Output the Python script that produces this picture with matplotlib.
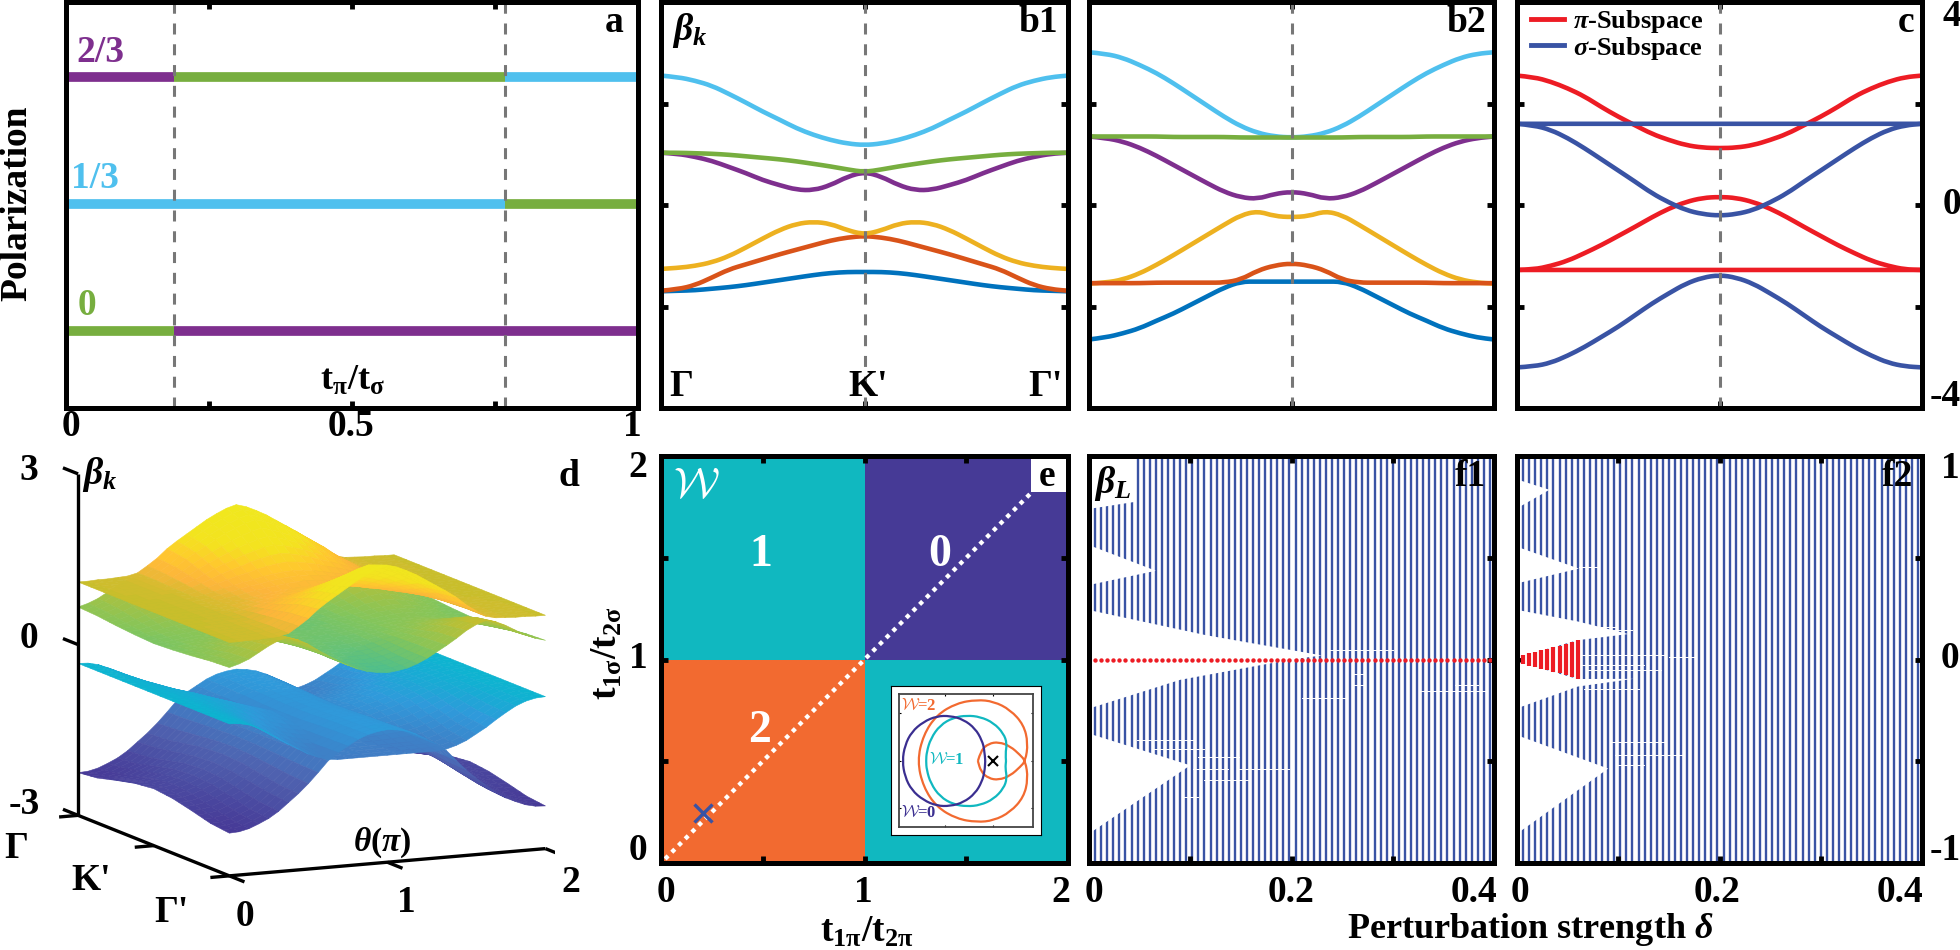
import numpy as np
import matplotlib
matplotlib.use('Agg')
import matplotlib.pyplot as plt
from matplotlib.colors import LinearSegmentedColormap, ListedColormap
from matplotlib.patches import PathPatch
from matplotlib.path import Path
from mpl_toolkits.mplot3d.art3d import Poly3DCollection

plt.rcParams['font.family'] = ['Liberation Serif', 'DejaVu Serif']
plt.rcParams['font.weight'] = 'bold'
plt.rcParams['mathtext.fontset'] = 'custom'
plt.rcParams['mathtext.rm'] = 'Liberation Serif:bold'
plt.rcParams['mathtext.it'] = 'Liberation Serif:italic:bold'
plt.rcParams['mathtext.bf'] = 'Liberation Serif:bold'
plt.rcParams['mathtext.bfit'] = 'Liberation Serif:italic:bold'

W, H = 1960, 950

# colours
CYAN, GREEN, PURPLE = '#4FC0EE', '#77AE3F', '#7E2F8E'
YELLOW, ORANGE, BLUE = '#EDB120', '#D95319', '#0072BD'
RED, SBLUE, GRAY = '#ED1C24', '#3953A4', '#777777'

# panel a: polarization segments
pol_levels = [2/3, 2/3, 2/3, 1/3, 1/3, 0, 0]
pol_start = [0, 0.189, 0.767, 0, 0.767, 0, 0.189]
pol_end = [0.189, 0.767, 1, 0.767, 1, 0.189, 1]
pol_colors = [PURPLE, GREEN, CYAN, CYAN, GREEN, GREEN, PURPLE]
transitions = [0.189, 0.767]

# bands, Gamma to K' (second half is the mirror image)
b1_cyan = [2.55, 2.52, 2.45, 2.35, 2.19, 2.02, 1.84, 1.68, 1.51, 1.38, 1.28, 1.21, 1.18]
b1_green = [1.03, 1.03, 1.02, 1.01, 0.99, 0.96, 0.93, 0.90, 0.86, 0.81, 0.76, 0.70, 0.65]
b1_purple = [1.03, 1.01, 0.95, 0.87, 0.75, 0.63, 0.49, 0.39, 0.30, 0.29, 0.39, 0.56, 0.65]
b1_yellow = [-1.26, -1.24, -1.20, -1.13, -1.01, -0.84, -0.66, -0.49, -0.37, -0.33, -0.37, -0.50, -0.58]
b1_orange = [-1.69, -1.66, -1.58, -1.43, -1.27, -1.17, -1.07, -0.97, -0.88, -0.79, -0.70, -0.64, -0.61]
b1_blue = [-1.70, -1.69, -1.68, -1.65, -1.62, -1.58, -1.53, -1.48, -1.43, -1.38, -1.34, -1.32, -1.32]

b2_cyan = [3.01, 2.98, 2.90, 2.76, 2.60, 2.40, 2.18, 1.96, 1.74, 1.55, 1.42, 1.35, 1.33]
b2_green = [1.35, 1.35, 1.35, 1.35, 1.35, 1.34, 1.34, 1.34, 1.34, 1.33, 1.33, 1.33, 1.33]
b2_purple = [1.35, 1.32, 1.25, 1.13, 0.97, 0.79, 0.61, 0.43, 0.26, 0.15, 0.12, 0.22, 0.26]
b2_yellow = [-1.55, -1.53, -1.47, -1.35, -1.18, -0.99, -0.79, -0.59, -0.39, -0.20, -0.12, -0.22, -0.24]
b2_orange = [-1.54, -1.54, -1.54, -1.54, -1.53, -1.53, -1.53, -1.53, -1.53, -1.47, -1.29, -1.19, -1.15]
b2_blue = [-2.65, -2.61, -2.53, -2.43, -2.28, -2.14, -1.97, -1.80, -1.63, -1.51, -1.51, -1.51, -1.51]

c_red_top = [2.55, 2.52, 2.43, 2.30, 2.14, 1.93, 1.74, 1.57, 1.40, 1.28, 1.18, 1.13, 1.12]
c_red_mid = [-1.28, -1.27, -1.20, -1.10, -0.95, -0.79, -0.61, -0.43, -0.24, -0.07, 0.06, 0.14, 0.16]
c_red_flat = [-1.28] * 13
c_blue_flat = [1.60] * 13
c_blue_mid = [1.60, 1.57, 1.48, 1.32, 1.12, 0.90, 0.68, 0.46, 0.23, 0.05, -0.10, -0.18, -0.21]
c_blue_low = [-3.20, -3.18, -3.11, -2.97, -2.80, -2.60, -2.40, -2.17, -1.94, -1.74, -1.55, -1.43, -1.38]

# panel d: one quarter of each surface, rows k = Gamma..K', columns theta = 0..pi
surf_1 = [[1.10, 1.10, 1.11, 1.11, 1.12, 1.13, 1.17, 1.28, 1.40, 1.55, 1.67, 1.78, 1.89, 2.00, 2.09, 2.17, 2.22],
          [1.10, 1.10, 1.11, 1.11, 1.12, 1.13, 1.17, 1.26, 1.37, 1.50, 1.60, 1.70, 1.80, 1.89, 1.97, 2.04, 2.09],
          [1.10, 1.10, 1.11, 1.11, 1.12, 1.13, 1.15, 1.22, 1.29, 1.37, 1.45, 1.52, 1.58, 1.65, 1.70, 1.75, 1.78],
          [1.10, 1.10, 1.10, 1.10, 1.11, 1.12, 1.14, 1.17, 1.21, 1.25, 1.29, 1.33, 1.36, 1.40, 1.43, 1.45, 1.46],
          [1.10, 1.10, 1.10, 1.10, 1.11, 1.12, 1.13, 1.15, 1.17, 1.19, 1.22, 1.25, 1.27, 1.29, 1.31, 1.32, 1.33]]
surf_2 = [[0.66, 0.71, 0.78, 0.88, 0.98, 1.06, 1.10, 1.04, 0.95, 0.83, 0.72, 0.62, 0.52, 0.44, 0.38, 0.35, 0.33],
          [0.64, 0.69, 0.75, 0.84, 0.93, 1.00, 1.03, 0.98, 0.90, 0.80, 0.70, 0.61, 0.52, 0.45, 0.40, 0.37, 0.36],
          [0.60, 0.63, 0.68, 0.74, 0.80, 0.84, 0.87, 0.83, 0.78, 0.71, 0.65, 0.59, 0.54, 0.49, 0.45, 0.43, 0.42],
          [0.57, 0.58, 0.61, 0.64, 0.67, 0.69, 0.71, 0.69, 0.67, 0.63, 0.60, 0.57, 0.55, 0.52, 0.50, 0.48, 0.47],
          [0.55, 0.56, 0.58, 0.60, 0.62, 0.63, 0.64, 0.63, 0.62, 0.60, 0.58, 0.56, 0.55, 0.53, 0.52, 0.51, 0.50]]
surf_3 = [[-0.33, -0.34, -0.38, -0.45, -0.55, -0.66, -0.78, -0.88, -0.98, -1.05, -1.10, -1.12, -1.12, -1.12, -1.12, -1.12, -1.12],
          [-0.33, -0.34, -0.38, -0.44, -0.53, -0.63, -0.74, -0.83, -0.92, -0.99, -1.04, -1.07, -1.08, -1.08, -1.09, -1.09, -1.09],
          [-0.33, -0.34, -0.37, -0.42, -0.48, -0.56, -0.64, -0.72, -0.79, -0.86, -0.91, -0.95, -0.97, -0.99, -1.01, -1.02, -1.02],
          [-0.33, -0.34, -0.36, -0.40, -0.44, -0.49, -0.54, -0.60, -0.66, -0.72, -0.78, -0.82, -0.87, -0.90, -0.93, -0.94, -0.95],
          [-0.33, -0.34, -0.36, -0.39, -0.42, -0.46, -0.50, -0.55, -0.60, -0.66, -0.72, -0.77, -0.82, -0.86, -0.90, -0.91, -0.92]]
surf_4 = [[-2.25, -2.24, -2.20, -2.13, -2.05, -1.94, -1.80, -1.66, -1.50, -1.32, -1.13, -1.00, -0.90, -0.80, -0.73, -0.69, -0.67],
          [-2.21, -2.20, -2.16, -2.09, -2.02, -1.91, -1.77, -1.64, -1.48, -1.31, -1.13, -1.01, -0.91, -0.81, -0.74, -0.70, -0.68],
          [-2.12, -2.11, -2.08, -2.01, -1.93, -1.84, -1.71, -1.58, -1.44, -1.29, -1.14, -1.03, -0.92, -0.83, -0.75, -0.71, -0.69],
          [-2.04, -2.03, -1.99, -1.93, -1.85, -1.76, -1.65, -1.52, -1.40, -1.27, -1.15, -1.04, -0.94, -0.85, -0.77, -0.73, -0.71],
          [-2.00, -1.99, -1.95, -1.89, -1.82, -1.73, -1.62, -1.50, -1.38, -1.26, -1.15, -1.05, -0.95, -0.86, -0.78, -0.74, -0.72]]
surf_levels = [-2.25, -1.5, -0.7, -0.33, 0.3, 0.6, 1.1, 1.27, 1.5, 1.75, 2.2]
surf_colors = ['#473A97', '#4F63B0', '#2F9ADB', '#0DB4D0', '#49BF91', '#85C55A',
               '#C9BE2B', '#FCB53B', '#FFC82E', '#F3E31F', '#F0E81E']

# panel e: winding number map and inset loops
winding = [[2, 1], [1, 0]]
region_colors = ['#463A96', '#10B8C0', '#F26A30']
loop0_x = [-0.155, -0.169, -0.225, -0.366, -0.613, -0.894, -1.176, -1.458, -1.704, -1.845, -1.90]
loop0_y = [0, 0.225, 0.437, 0.683, 0.873, 0.951, 0.944, 0.824, 0.613, 0.331, 0]
loop1_x = [0.282, 0.268, 0.303, 0.232, 0.021, -0.261, -0.542, -0.824, -1.106, -1.303, -1.387, -1.401]
loop1_y = [0, 0.155, 0.366, 0.577, 0.803, 0.930, 0.958, 0.915, 0.754, 0.472, 0.19, 0]
loop2_x = [-0.31, -0.246, -0.085, 0.127, 0.373, 0.585, 0.69, 0.746, 0.655, 0.373, 0.021,
           -0.331, -0.754, -1.176, -1.458, -1.585]
loop2_y = [0, 0.225, 0.366, 0.401, 0.31, 0.12, 0, -0.373, -0.761, -1.077, -1.254,
           -1.289, -1.218, -0.972, -0.549, 0]

# panel f: gaps of the spectrum (delta, beta) and small openings
f1_gaps = [([0, 0.046, 0.046, 0], [1, 1, 0.775, 0.74]),
           ([0, 0.066, 0], [0.562, 0.436, 0.366]),
           ([0, 0.115, 0.23, 0.2, 0.09, 0], [0.243, 0.12, 0.02, 0.0, -0.10, -0.241]),
           ([0, 0.10, 0], [-0.364, -0.52, -0.856])]
f1_nicks = [(0.26, 0.271, -0.126), (0.361, 0.384, -0.126), (0.21, 0.254, -0.19),
            (0.26, 0.271, -0.069), (0.238, 0.30, 0.046), (0.108, 0.148, -0.479),
            (0.103, 0.137, -0.536), (0.114, 0.159, -0.593), (0.092, 0.108, -0.675),
            (0.047, 0.103, -0.397), (0.063, 0.114, -0.438), (0.148, 0.198, -0.536),
            (0.328, 0.392, -0.154)]
f2_gaps = [([0, 0.032, 0], [0.885, 0.834, 0.743]),
           ([0, 0.061, 0], [0.554, 0.447, 0.374]),
           ([0, 0.06, 0.11, 0.06, 0], [0.244, 0.187, 0.125, 0.095, 0.01]),
           ([0, 0.06, 0.115, 0.06, 0], [-0.01, -0.096, -0.095, -0.133, -0.24]),
           ([0, 0.09, 0], [-0.372, -0.536, -0.856])]
f2_nicks = [(0.064, 0.147, 0.021), (0.064, 0.125, -0.028), (0.069, 0.142, -0.052),
            (0.066, 0.12, -0.143), (0.092, 0.147, -0.405), (0.097, 0.164, -0.47),
            (0.058, 0.097, 0.161), (0.092, 0.114, 0.144), (0.061, 0.08, 0.456),
            (0.10, 0.125, -0.52), (0.15, 0.175, 0.01)]
f2_red_half = [0.02, 0.03, 0.036, 0.046, 0.052, 0.059, 0.066, 0.074, 0.085, 0.096]


def full(half):
    half = np.asarray(half, dtype=float)
    return np.concatenate([half, half[-2::-1]])


def ax_px(l, t, r, b):
    return fig.add_axes([l / W, 1 - b / H, (r - l) / W, (b - t) / H])


def px_text(x, y, s, size=27, color='k', **kw):
    kw.setdefault('ha', 'center')
    kw.setdefault('va', 'center')
    return fig.text(x / W, 1 - y / H, s, fontsize=size, color=color, fontweight='bold', **kw)


def frame(ax, xticks, yticks):
    ax.set_xticks(xticks)
    ax.set_yticks(yticks)
    ax.tick_params(direction='in', top=True, right=True, length=5, width=3.5,
                   labelbottom=False, labelleft=False)
    for sp in ax.spines.values():
        sp.set_linewidth(3.6)
        sp.set_zorder(10)


def smooth_line(ax, x, y, **kw):
    # quadratic spline with the read points as control points
    pts = np.column_stack([x, y])
    verts = [pts[0]]
    codes = [Path.MOVETO]
    for i in range(1, len(pts) - 1):
        verts += [pts[i], (pts[i] + pts[i + 1]) / 2]
        codes += [Path.CURVE3, Path.CURVE3]
    verts.append(pts[-1])
    codes.append(Path.LINETO)
    ax.add_patch(PathPatch(Path(verts, codes), fill=False, capstyle='butt', **kw))


fig = plt.figure(figsize=(W / 100, H / 100), dpi=100)

# a
ax = ax_px(66, 2, 638, 408)
for y, x0, x1, col in zip(pol_levels, pol_start, pol_end, pol_colors):
    ax.plot([x0, x1], [y, y], color=col, lw=7, solid_capstyle='butt')
for x in transitions:
    ax.axvline(x, color=GRAY, lw=2.2, ls=(0, (3.6, 3.2)), zorder=5)
ax.set_xlim(0, 1)
ax.set_ylim(1/3 - 0.5347, 1/3 + 0.5302)
frame(ax, [0.25, 0.5, 0.75], [0, 1/3, 2/3])
px_text(100, 52, '2/3', color=PURPLE)
px_text(95, 178, '1/3', color=CYAN)
px_text(87, 306, '0', color=GREEN)
px_text(614, 23, 'a')
px_text(17, 203, 'Polarization', size=27, rotation=90)
px_text(352, 381, r'$\mathbf{t}_{\mathbf{\pi}}\mathbf{/t}_{\mathbf{\sigma}}$', size=26)
px_text(71, 426, '0')
px_text(351, 426, '0.5')
px_text(632, 426, '1')

# b1, b2, c
k = np.linspace(0, 1, 25)
panels = [(661, 1068, [(b1_blue, BLUE), (b1_orange, ORANGE), (b1_yellow, YELLOW),
                       (b1_purple, PURPLE), (b1_green, GREEN), (b1_cyan, CYAN)]),
          (1089, 1494, [(b2_blue, BLUE), (b2_yellow, YELLOW), (b2_orange, ORANGE),
                        (b2_purple, PURPLE), (b2_cyan, CYAN), (b2_green, GREEN)]),
          (1517, 1922, [(c_red_top, RED), (c_red_mid, RED), (c_red_flat, RED),
                        (c_blue_flat, SBLUE), (c_blue_mid, SBLUE), (c_blue_low, SBLUE)])]
for l, r, curves in panels:
    ax = ax_px(l, 2, r, 408)
    for vals, col in curves:
        smooth_line(ax, k, full(vals), edgecolor=col, lw=3.3)
    ax.axvline(0.5, color=GRAY, lw=2.2, ls=(0, (3.6, 3.2)), zorder=5)
    ax.set_xlim(0, 1)
    ax.set_ylim(-4, 4)
    frame(ax, [0.5], [-2, 0, 2])
    ax_c = ax
ax_c.plot([], [], color=RED, lw=3.5, label=r'$\mathbfit{\pi}$-Subspace')
ax_c.plot([], [], color=SBLUE, lw=3.5, label=r'$\mathbfit{\sigma}$-Subspace')
ax_c.legend(loc='upper left', frameon=False, prop={'weight': 'bold', 'size': 19},
            handlelength=1.25, handletextpad=0.34, labelspacing=-0.02,
            borderaxespad=0, borderpad=0, bbox_to_anchor=(0.035, 0.985))
beta_k = r'$\mathbfit{\beta}_{\mathbfit{k}}$'
px_text(690, 30, beta_k, size=27)
px_text(1038, 22, 'b1')
px_text(1466, 22, 'b2')
px_text(1906, 22, 'c')
px_text(681, 387, '\u0393')
px_text(868, 387, "K'")
px_text(1045, 387, "\u0393'")
px_text(1952, 17, '4')
px_text(1952, 205, '0')
px_text(1945, 397, '-4')

# d
ax3 = fig.add_axes([55 / W, 1 - 918 / H, 500 / W, 500 / H], projection='3d', proj_type='ortho')
ax3.view_init(elev=10.7, azim=-24.9)
ax3.set_box_aspect((368, 357, 356), zoom=1.183)
ax3.set_xlim(0, 1)
ax3.set_ylim(0, 1)
ax3.set_zlim(-3, 3)
ax3.set_axis_off()
ax3.computed_zorder = False
cmap = LinearSegmentedColormap.from_list(
    'bands', [((v - surf_levels[0]) / (surf_levels[-1] - surf_levels[0]), c)
              for v, c in zip(surf_levels, surf_colors)])
u_grid = np.linspace(0, 1, 9)
v_grid = np.linspace(0, 1, 33)
polys, poly_cols = [], []
n_sub = 3  # finer facets along k only for the shading
for surf in (surf_4, surf_3, surf_2, surf_1):
    q = np.array(surf)
    z = np.vstack([q, q[-2::-1]])
    z = np.hstack([z, z[:, -2::-1]])
    for i in range(len(u_grid) - 1):
        for j in range(len(v_grid) - 1):
            for s in range(n_sub):
                t0, t1 = s / n_sub, (s + 1) / n_sub
                u0 = u_grid[i] + t0 * (u_grid[i + 1] - u_grid[i])
                u1 = u_grid[i] + t1 * (u_grid[i + 1] - u_grid[i])
                z00 = z[i, j] + t0 * (z[i + 1, j] - z[i, j])
                z10 = z[i, j] + t1 * (z[i + 1, j] - z[i, j])
                z01 = z[i, j + 1] + t0 * (z[i + 1, j + 1] - z[i, j + 1])
                z11 = z[i, j + 1] + t1 * (z[i + 1, j + 1] - z[i, j + 1])
                polys.append([(u0, v_grid[j], z00), (u1, v_grid[j], z10),
                              (u1, v_grid[j + 1], z11), (u0, v_grid[j + 1], z01)])
                poly_cols.append(cmap((np.mean([z00, z10, z01, z11]) - surf_levels[0])
                                      / (surf_levels[-1] - surf_levels[0])))
ax3.add_collection3d(Poly3DCollection(polys, facecolors=poly_cols, edgecolors=poly_cols,
                                      linewidths=0.4, zorder=2, zsort='average'))
for xs, ys, zs in [([0, 0], [0, 0], [-3, 3]), ([0, 1], [0, 0], [-3, -3]), ([1, 1], [0, 1], [-3, -3]),
                   ([0, -0.1], [0, 0], [3, 3]), ([0, -0.1], [0, 0], [0, 0]), ([0, -0.1], [0, 0], [-3, -3]),
                   ([0, 0], [0, -0.06], [-3, -3]), ([0.5, 0.5], [0, -0.06], [-3, -3]), ([1, 1], [0, -0.06], [-3, -3]),
                   ([1, 1.1], [0, 0], [-3, -3]), ([1, 1.1], [0.5, 0.5], [-3, -3]), ([1, 1.1], [1, 1], [-3, -3])]:
    ax3.plot(xs, ys, zs, color='k', lw=2.4, zorder=3, solid_capstyle='butt')
px_text(29, 470, '3')
px_text(29, 638, '0')
px_text(24, 805, '-3')
px_text(16, 848, '\u0393')
px_text(91, 880, "K'")
px_text(171, 912, "\u0393'")
px_text(245, 917, '0')
px_text(406, 902, '1')
px_text(571, 882, '2')
px_text(382, 843, r'$\mathbfit{\theta}\mathbf{(}\mathbfit{\pi}\mathbf{)}$', size=24)
px_text(100, 475, beta_k, size=27)
px_text(569, 477, 'd')

# e
ax = ax_px(661, 456, 1068, 863)
ax.pcolormesh([0, 1, 2], [0, 1, 2], np.array(winding), cmap=ListedColormap(region_colors), vmin=0, vmax=2)
ax.fill([1.82, 2, 2, 1.82], [1.824, 1.824, 2, 2], color='white', lw=0)
ax.plot([0.02, 1.82], [0.02, 1.82], color='white', lw=3.1, ls=(0, (1, 1.2)))
ax.plot([0.207], [0.244], marker='x', ms=13, mew=2.4, color=SBLUE)
ax.text(0.49, 1.515, '1', color='white', fontsize=33, ha='center', va='center')
ax.text(1.37, 1.515, '0', color='white', fontsize=33, ha='center', va='center')
ax.text(0.484, 0.651, '2', color='white', fontsize=33, ha='center', va='center')
ax.text(0.174, 1.85, r'$\mathcal{W}$', color='white', fontsize=31, ha='center', va='center',
        math_fontfamily='cm')
ax.set_xlim(0, 2)
ax.set_ylim(0, 2)
frame(ax, [0.5, 1, 1.5], [0.5, 1, 1.5])
px_text(1047, 476, 'e')
px_text(638, 467, '2')
px_text(638, 659, '1')
px_text(638, 851, '0')
px_text(666, 892, '0')
px_text(863, 892, '1')
px_text(1061, 892, '2')
px_text(867, 932, r'$\mathbf{t}_{\mathbf{1\pi}}\mathbf{/t}_{\mathbf{2\pi}}$', size=27)
px_text(607, 653, r'$\mathbf{t}_{\mathbf{1\sigma}}\mathbf{/t}_{\mathbf{2\sigma}}$', size=27, rotation=90)

# inset of e
bg = ax_px(891, 686, 1041, 835)
bg.set_xticks([])
bg.set_yticks([])
for sp in bg.spines.values():
    sp.set_linewidth(0.8)
    sp.set_zorder(10)
ins = ax_px(899, 694, 1033, 827)
for xs, ys, col in [(loop2_x, loop2_y, '#F26A30'), (loop1_x, loop1_y, '#10B8C0'), (loop0_x, loop0_y, '#3A2E90')]:
    xs = np.array(xs)
    ys = np.array(ys)
    smooth_line(ins, np.r_[xs, xs[::-1][1:]], np.r_[ys, -ys[::-1][1:]], edgecolor=col, lw=1.6)
ins.plot([0], [0], marker='x', ms=7, mew=1.5, color='k')
ins.set_xlim(-1.97, 0.85)
ins.set_ylim(-1.39, 1.41)
ins.set_xticks([-1, 0])
ins.set_yticks([-1, 0, 1])
ins.tick_params(direction='in', top=True, right=True, length=1.5, width=0.8, labelbottom=False, labelleft=False)
for sp in ins.spines.values():
    sp.set_linewidth(1.3)
    sp.set_color('#444444')
for x, y, s, col in [(919, 706, '=2', '#F26A30'), (947, 760, '=1', '#10B8C0'), (919, 813, '=0', '#3A2E90')]:
    px_text(x, y, r'$\mathcal{W}$' + s, size=12, color=col, math_fontfamily='cm')

# f1, f2
delta = 0.006 * np.arange(1, 67)
for l, r, gaps, nicks in [(1089, 1494, f1_gaps, f1_nicks), (1517, 1922, f2_gaps, f2_nicks)]:
    ax = ax_px(l, 456, r, 863)
    ax.vlines(delta, -1, 1, color=SBLUE, lw=1.7, zorder=1)
    for xs, ys in gaps:
        ax.fill(xs, ys, color='white', lw=0, zorder=2)
    for x0, x1, y in nicks:
        ax.plot([x0, x1], [y, y], color='white', lw=0.7, zorder=2)
    ax.set_xlim(0, 0.4)
    ax.set_ylim(-1, 1)
    frame(ax, [0.1, 0.2, 0.3], [-0.5, 0, 0.5])
    if l == 1089:
        ax.scatter(delta, np.zeros(len(delta)), s=10, color=RED, lw=0, zorder=4)
    else:
        ax.vlines(delta[:len(f2_red_half)], -np.array(f2_red_half), np.array(f2_red_half),
                  color=RED, lw=3, zorder=4)
px_text(1113, 483, r'$\mathbfit{\beta}_{\mathbfit{L}}$', size=27)
px_text(1470, 477, 'f1')
px_text(1897, 477, 'f2')
for x, s in [(1094, '0'), (1291, '0.2'), (1474, '0.4'), (1520, '0'), (1717, '0.2'), (1900, '0.4')]:
    px_text(x, 892, s)
px_text(1530, 930, r'Perturbation strength $\mathbfit{\delta}$', size=26)
px_text(1950, 469, '1')
px_text(1950, 659, '0')
px_text(1945, 851, '-1')

fig.savefig('out.png', dpi=100)
